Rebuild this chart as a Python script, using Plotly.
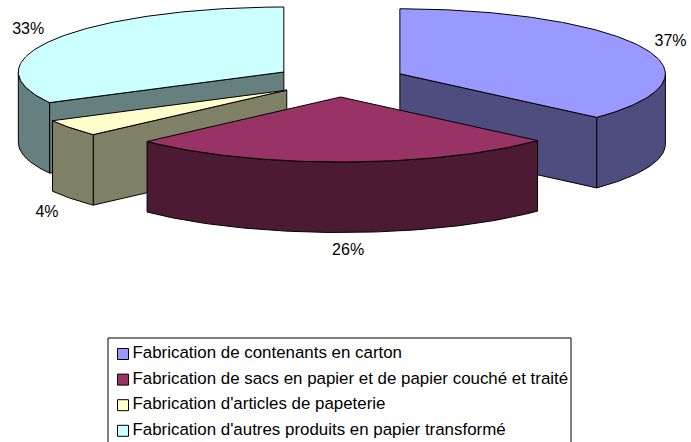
import math
import plotly.graph_objects as go

categories = [
    "Fabrication de contenants en carton",
    "Fabrication de sacs en papier et de papier couché et traité",
    "Fabrication d'articles de papeterie",
    "Fabrication d'autres produits en papier transformé",
]
values = [36.7, 26.3, 4.2, 32.8]
top_colors = ["#9999FF", "#993366", "#FFFFCC", "#CCFFFF"]
side_colors = ["#4D4D80", "#4D1A33", "#808066", "#668080"]

# projection of the 3D pie, in page pixels
CX, CY = 340, 80.5
RX, RY = 265.5, 65
EXPLODE_X, EXPLODE_Y = 65.5, 16.5
DEPTH = 70.5
LABEL_SHIFT = [(28, -5), (5, 18), (-24, 15), (-28, -9)]
DRAW_ORDER = [3, 0, 2, 1]
FONT = "Liberation Sans, Arial, sans-serif"

total = sum(values)
starts, s = [], 0.0
for v in values:
    starts.append(s)
    s += v / total * 360


def pt(c, a, dy=0.0):
    r = math.radians(a)
    return c[0] + RX * math.sin(r), c[1] - RY * math.cos(r) + dy


def arc(c, a0, a1, dy=0.0):
    n = max(2, int(abs(a1 - a0)) + 1)
    return [pt(c, a0 + (a1 - a0) * i / n, dy) for i in range(n + 1)]


def poly(fig, points, color):
    xs = [p[0] for p in points] + [points[0][0]]
    ys = [p[1] for p in points] + [points[0][1]]
    fig.add_trace(go.Scatter(x=xs, y=ys, mode="lines", fill="toself", fillcolor=color,
                             line=dict(color="black", width=1), hoverinfo="skip",
                             showlegend=False))


fig = go.Figure()
centres = []
for i, v in enumerate(values):
    mid = math.radians(starts[i] + v / total * 180)
    centres.append((CX + EXPLODE_X * math.sin(mid), CY - EXPLODE_Y * math.cos(mid)))

for i in DRAW_ORDER:
    c = centres[i]
    a0 = starts[i]
    a1 = a0 + values[i] / total * 360
    # flat cut walls that face the viewer
    if 90 < a1 < 180:
        e = pt(c, a1)
        poly(fig, [c, e, (e[0], e[1] + DEPTH), (c[0], c[1] + DEPTH)], side_colors[i])
    if a0 > 180:
        e = pt(c, a0)
        poly(fig, [c, e, (e[0], e[1] + DEPTH), (c[0], c[1] + DEPTH)], side_colors[i])
    # curved outer wall (front half only)
    w0, w1 = max(a0, 90), min(a1, 270)
    if w1 > w0:
        poly(fig, arc(c, w0, w1) + arc(c, w1, w0, DEPTH), side_colors[i])
    # top face
    poly(fig, [c] + arc(c, a0, a1), top_colors[i])

# percentage labels
lx, ly, lt = [], [], []
for i, v in enumerate(values):
    mid = starts[i] + v / total * 180
    x, y = pt(centres[i], mid, DEPTH if 90 < mid < 270 else 0)
    lx.append(x + LABEL_SHIFT[i][0])
    ly.append(y + LABEL_SHIFT[i][1])
    lt.append(f"{round(v / total * 100)}%")
fig.add_trace(go.Scatter(x=lx, y=ly, text=lt, mode="text", textposition="middle center",
                         textfont=dict(family=FONT, size=16, color="black"),
                         hoverinfo="skip", showlegend=False))

# legend
LEG_X, LEG_Y0, LEG_DY = 123, 354, 25.6
leg_y = [LEG_Y0 + LEG_DY * i for i in range(len(categories))]
fig.add_trace(go.Scatter(x=[LEG_X] * 4, y=leg_y, mode="markers",
                         marker=dict(symbol="square", size=11, color=top_colors,
                                     line=dict(color="black", width=1)),
                         hoverinfo="skip", showlegend=False))
fig.add_trace(go.Scatter(x=[LEG_X + 9.5] * 4, y=leg_y, text=categories, mode="text",
                         textposition="middle right",
                         textfont=dict(family=FONT, size=16.9, color="black"),
                         hoverinfo="skip", showlegend=False))

fig.update_layout(
    width=691, height=442, margin=dict(l=0, r=0, t=0, b=0),
    paper_bgcolor="white", plot_bgcolor="white",
    xaxis=dict(range=[0, 691], visible=False, fixedrange=True),
    yaxis=dict(range=[442, 0], visible=False, fixedrange=True),
    shapes=[dict(type="rect", xref="x", yref="y", x0=108, x1=571, y0=338, y1=446,
                 line=dict(color="black", width=1), layer="below")],
)
fig.write_html("out.html", config={"displayModeBar": False},
               post_script="document.body.style.margin='0';document.documentElement.style.overflow='hidden';")
